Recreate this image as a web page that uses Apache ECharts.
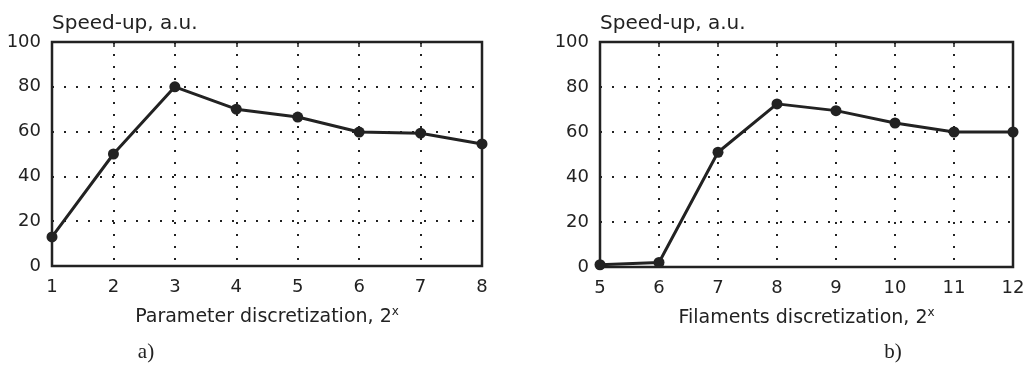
<!DOCTYPE html>
<html>
<head>
<meta charset="utf-8">
<script src="https://cdn.jsdelivr.net/npm/echarts@6/dist/echarts.min.js"></script>
<style>
html,body{margin:0;padding:0;background:#fff;}
#c{width:1030px;height:365px;}
</style>
</head>
<body>
<div id="c"></div>
<script>
// Data
const paramDiscretization = [1, 2, 3, 4, 5, 6, 7, 8];
const speedupParam = [13, 50, 80, 70, 66.5, 59.8, 59.3, 54.5];
const filamentDiscretization = [5, 6, 7, 8, 9, 10, 11, 12];
const speedupFilament = [1, 2, 51, 72.5, 69.5, 64, 60, 60];
const yTicks = [0, 20, 40, 60, 80, 100];
const yAxisTitle = 'Speed-up, a.u.';
const xTitleA = 'Parameter discretization, 2';
const xTitleB = 'Filaments discretization, 2';
const panelLabels = ['a)', 'b)'];

const INK = '#222';
const FONT = 'DejaVu Sans';

function pairs(xs, ys) { return xs.map((x, i) => [x, ys[i]]); }

function xAxisCfg(idx, xs, title) {
  return {
    type: 'value', gridIndex: idx,
    min: xs[0], max: xs[xs.length - 1], interval: 1,
    axisLine: { show: false }, axisTick: { show: false },
    axisLabel: { color: INK, fontFamily: FONT, fontSize: 18, margin: 12 },
    splitLine: { show: true, lineStyle: { color: INK, width: 2, type: [2, 10] } },
    name: title + '{s|x}', nameLocation: 'middle', nameGap: 40,
    nameTextStyle: {
      color: INK, fontFamily: FONT, fontSize: 19, lineHeight: 22,
      rich: { s: { fontFamily: FONT, fontSize: 12, lineHeight: 10, verticalAlign: 'top', color: INK } }
    }
  };
}
function topAxisCfg(idx, xs) {
  return {
    type: 'value', gridIndex: idx, position: 'top',
    min: xs[0], max: xs[xs.length - 1], interval: 1,
    axisLine: { show: false }, axisLabel: { show: false }, splitLine: { show: false },
    axisTick: { show: true, inside: true, length: 5, lineStyle: { color: INK, width: 1.5 } }
  };
}
function yAxisCfg(idx) {
  return {
    type: 'value', gridIndex: idx,
    min: yTicks[0], max: yTicks[yTicks.length - 1], interval: yTicks[1] - yTicks[0],
    axisLine: { show: false }, axisTick: { show: false },
    axisLabel: { color: INK, fontFamily: FONT, fontSize: 18, margin: 11 },
    splitLine: { show: true, lineStyle: { color: INK, width: 2, type: [2, 10] } },
    name: yAxisTitle, nameLocation: 'end', nameGap: 8,
    nameTextStyle: { color: INK, fontFamily: FONT, fontSize: 20, align: 'left' }
  };
}
function seriesCfg(idx, xs, ys) {
  return {
    type: 'line', xAxisIndex: idx, yAxisIndex: idx,
    data: pairs(xs, ys),
    symbol: 'circle', symbolSize: 11,
    lineStyle: { color: INK, width: 3 },
    itemStyle: { color: INK },
    animation: false
  };
}

const chart = echarts.init(document.getElementById('c'), null, { renderer: 'canvas' });
chart.setOption({
  backgroundColor: '#fff',
  animation: false,
  grid: [
    { left: 52, top: 42, width: 430, height: 224, show: true, borderColor: INK, borderWidth: 2.5, backgroundColor: 'transparent' },
    { left: 600, top: 42, width: 413, height: 225, show: true, borderColor: INK, borderWidth: 2.5, backgroundColor: 'transparent' }
  ],
  xAxis: [
    xAxisCfg(0, paramDiscretization, xTitleA),
    xAxisCfg(1, filamentDiscretization, xTitleB),
    topAxisCfg(0, paramDiscretization),
    topAxisCfg(1, filamentDiscretization)
  ],
  yAxis: [yAxisCfg(0), yAxisCfg(1)],
  series: [seriesCfg(0, paramDiscretization, speedupParam), seriesCfg(1, filamentDiscretization, speedupFilament)],
  graphic: [
    { type: 'text', x: 146, y: 352, style: { text: panelLabels[0], font: '21px "Liberation Serif"', fill: INK, align: 'center', verticalAlign: 'middle' } },
    { type: 'text', x: 893, y: 352, style: { text: panelLabels[1], font: '21px "Liberation Serif"', fill: INK, align: 'center', verticalAlign: 'middle' } }
  ]
});
</script>
</body>
</html>
